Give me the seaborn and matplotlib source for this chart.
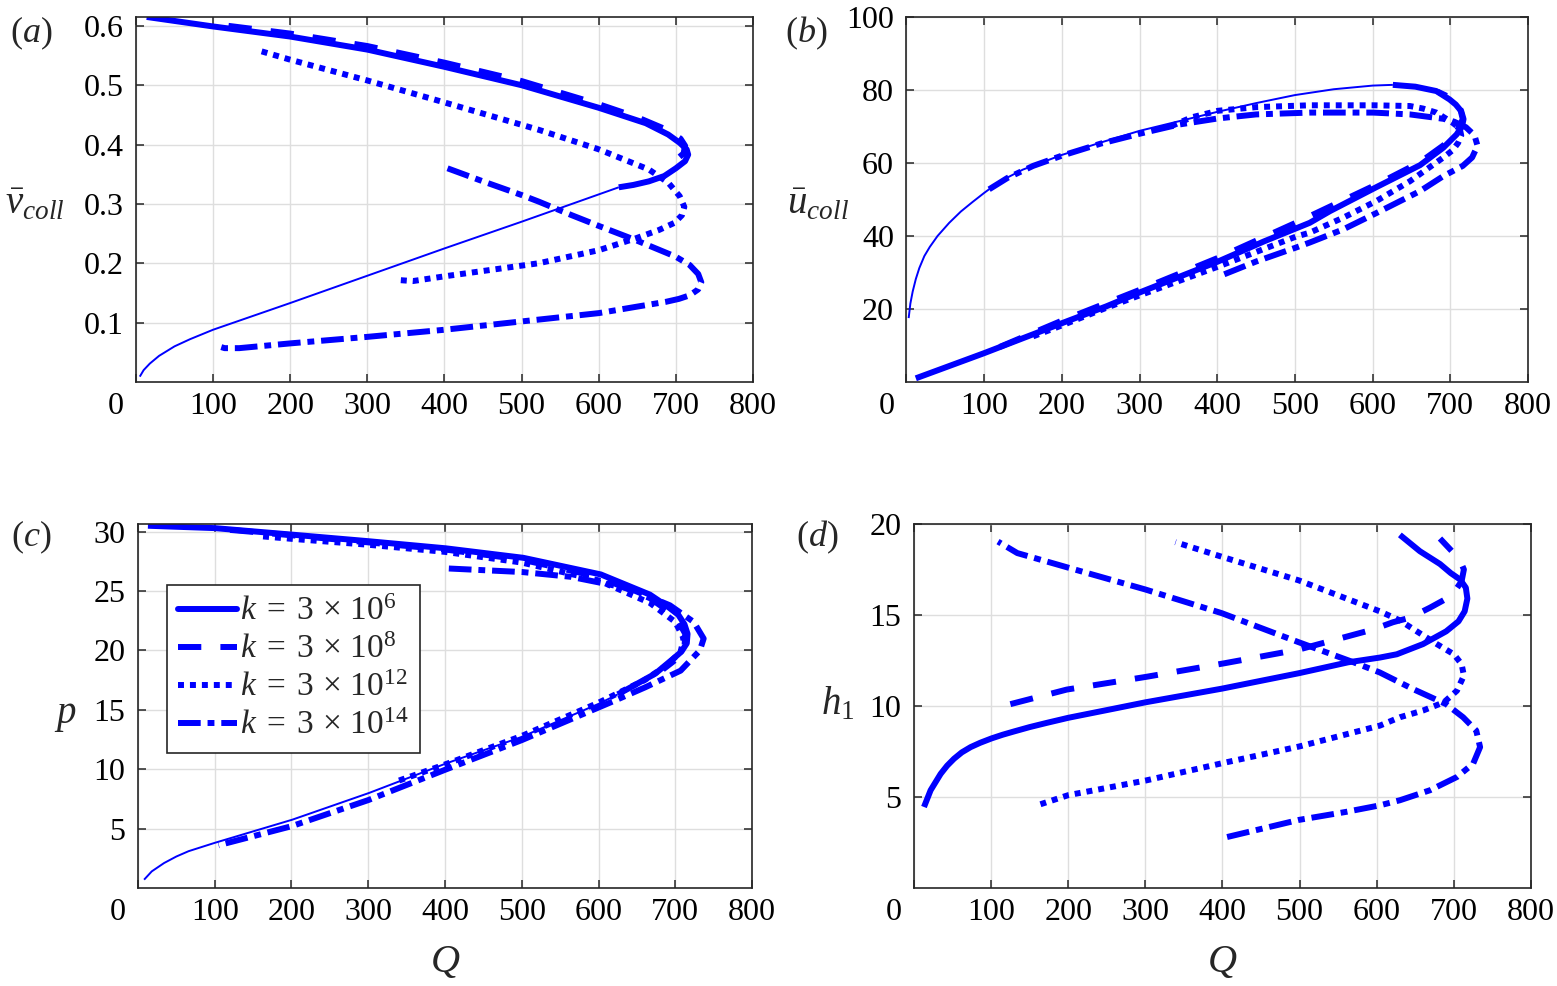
import matplotlib
matplotlib.use("Agg")
import matplotlib.pyplot as plt
import matplotlib.transforms as mtransforms
from matplotlib.lines import Line2D
import seaborn as sns

# ---- data (Q on x) ----
# (a) v_coll
a_k6_thick_Q = [14, 100, 200, 300, 400, 500, 600, 661, 690, 705, 714, 716, 712, 700, 685, 665, 645, 626]
a_k6_thick_v = [0.615, 0.599, 0.582, 0.560, 0.531, 0.500, 0.462, 0.436, 0.417, 0.403, 0.392, 0.383, 0.372, 0.360, 0.347, 0.338, 0.332, 0.328]
a_k6_thin_Q = [626, 550, 500, 400, 300, 200, 100, 70, 50, 30, 18, 10, 5]
a_k6_thin_v = [0.328, 0.293, 0.270, 0.225, 0.179, 0.133, 0.088, 0.072, 0.060, 0.044, 0.031, 0.020, 0.009]
a_k8_Q = [120, 200, 300, 400, 500, 600, 650, 690, 706, 712, 710, 700, 685]
a_k8_v = [0.600, 0.587, 0.566, 0.538, 0.507, 0.468, 0.446, 0.424, 0.410, 0.398, 0.385, 0.374, 0.368]
a_k12_Q = [163, 200, 300, 400, 522, 600, 665, 690, 705, 711, 708, 698, 678, 648, 600, 522, 400, 359, 338]
a_k12_v = [0.557, 0.543, 0.508, 0.471, 0.425, 0.392, 0.358, 0.336, 0.313, 0.295, 0.281, 0.268, 0.256, 0.242, 0.222, 0.200, 0.178, 0.170, 0.172]
a_k14_Q = [404, 450, 500, 522, 565, 600, 648, 700, 718, 729, 733, 729, 718, 704, 687, 650, 600, 500, 400, 300, 200, 134, 115, 105]
a_k14_v = [0.360, 0.338, 0.315, 0.304, 0.281, 0.263, 0.239, 0.211, 0.197, 0.182, 0.168, 0.156, 0.146, 0.140, 0.135, 0.127, 0.116, 0.102, 0.088, 0.076, 0.065, 0.057, 0.057, 0.061]

# (b) u_coll
b_k6_thick_Q = [12, 100, 200, 257, 301, 401, 460, 519, 545, 605, 661, 691, 708, 715, 717, 714, 707, 699, 682, 655, 626]
b_k6_thick_u = [1.0, 7.9, 16.1, 20.7, 24.6, 33.0, 38.5, 43.6, 46.8, 53.4, 59.4, 64.2, 67.8, 70.0, 72.0, 74.2, 76.0, 77.4, 79.7, 80.9, 81.4]
b_k6_thin_Q = [626, 600, 550, 500, 450, 400, 300, 250, 200, 150, 128, 107, 100, 85, 70, 55, 40, 30, 23, 16.5, 12, 8, 5, 2.8]
b_k6_thin_u = [81.4, 81.2, 80.2, 78.6, 76.4, 74.0, 68.8, 65.6, 62.2, 58.2, 55.8, 52.9, 51.8, 49.3, 46.7, 43.6, 40.0, 37.0, 34.5, 31.2, 28.2, 24.8, 21.5, 17.5]
b_k8_Q = [120, 200, 301, 401, 501, 606, 661, 691, 708, 716, 712, 699, 684]
b_k8_u = [9.6, 16.8, 25.3, 34.0, 43.6, 54.2, 60.2, 64.8, 68.5, 72.0, 75.5, 78.0, 79.5]
b_k12_Q = [163, 200, 257, 301, 401, 501, 519, 562, 605, 648, 691, 703, 710, 714, 712, 703, 682, 665, 648, 601, 519, 450, 401, 367, 342]
b_k12_u = [12.5, 15.5, 20.3, 23.8, 31.6, 39.8, 40.9, 45.0, 49.6, 55.0, 61.5, 63.5, 65.5, 67.5, 69.5, 71.0, 73.8, 74.9, 75.6, 75.8, 75.8, 75.3, 74.3, 72.5, 70.2]
b_k14_Q = [409, 450, 501, 519, 562, 605, 661, 691, 716, 728, 735, 731, 720, 705, 691, 648, 601, 519, 450, 401, 350, 300, 250, 200, 163, 130, 105]
b_k14_u = [29.5, 33.0, 36.8, 38.2, 41.8, 46.3, 52.3, 56.4, 59.2, 61.5, 64.7, 67.6, 69.8, 71.3, 72.1, 73.3, 73.8, 73.8, 73.3, 72.2, 70.5, 68.0, 65.3, 62.0, 59.2, 55.9, 52.6]

# (c) p
c_k6_thick_Q = [13, 100, 201, 300, 401, 502, 603, 667, 690, 704, 712, 716, 715, 708, 700, 674, 642, 625]
c_k6_thick_p = [30.5, 30.3, 29.75, 29.2, 28.6, 27.8, 26.4, 24.7, 23.7, 23.0, 22.2, 21.4, 20.6, 19.9, 19.45, 18.05, 16.9, 16.3]
c_k6_thin_Q = [625, 600, 499, 402, 301, 201, 100, 66, 50, 34, 18, 8]
c_k6_thin_p = [16.3, 15.5, 12.7, 10.5, 8.0, 5.75, 3.8, 3.1, 2.65, 2.1, 1.4, 0.7]
c_k8_Q = [120, 200, 300, 400, 500, 600, 667, 700, 713, 712, 700, 684]
c_k8_p = [30.15, 29.7, 29.1, 28.5, 27.65, 26.2, 24.4, 22.9, 21.4, 20.3, 19.2, 18.4]
c_k12_Q = [163, 200, 300, 400, 500, 600, 667, 700, 711, 707, 690, 660, 600, 500, 400, 338]
c_k12_p = [29.6, 29.4, 28.9, 28.3, 27.4, 25.9, 24.0, 22.4, 21.0, 19.9, 18.8, 17.5, 15.6, 12.8, 10.4, 9.0]
c_k14_Q = [405, 501, 564, 641, 693, 724, 737, 732, 707, 661, 622, 500, 400, 300, 200, 105]
c_k14_p = [26.9, 26.6, 26.2, 25.2, 23.8, 22.4, 21.0, 20.0, 18.3, 16.9, 15.8, 12.45, 9.95, 7.4, 5.2, 3.6]

# (d) h1
d_k6_Q = [13, 21.6, 34.6, 43, 51.9, 62, 73.5, 86, 100.7, 115, 129.7, 150, 173, 200, 259, 300, 399, 499, 563, 604, 626, 660, 690, 706, 714, 717.5, 715.5, 708, 696, 682, 656, 630]
d_k6_h = [4.45, 5.37, 6.27, 6.72, 7.1, 7.45, 7.74, 7.98, 8.22, 8.42, 8.6, 8.84, 9.08, 9.35, 9.85, 10.2, 10.95, 11.8, 12.4, 12.66, 12.84, 13.4, 14.1, 14.65, 15.2, 15.9, 16.5, 16.95, 17.3, 17.8, 18.5, 19.4]
d_k8_Q = [125, 198, 301, 403, 499, 595, 621, 643, 669, 697, 710, 713, 708, 702, 682]
d_k8_h = [10.1, 10.9, 11.6, 12.35, 13.1, 14.2, 14.6, 14.85, 15.4, 16.05, 16.85, 17.5, 18.0, 18.3, 19.2]
d_k12_Q = [164, 200, 300, 399, 499, 604, 630, 660, 687, 704, 713, 710, 700, 678, 652, 630, 604, 499, 399, 339]
d_k12_h = [4.6, 5.1, 5.9, 6.85, 7.77, 8.92, 9.38, 9.75, 10.2, 10.84, 11.67, 12.3, 12.84, 13.4, 14.1, 14.7, 15.2, 16.9, 18.2, 19.0]
d_k14_Q = [406, 499, 560, 604, 630, 669, 704, 725, 734, 729, 712, 690, 647, 604, 570, 499, 399, 300, 200, 134, 109]
d_k14_h = [2.8, 3.74, 4.18, 4.54, 4.82, 5.37, 6.1, 6.83, 7.74, 8.65, 9.38, 10.1, 10.93, 11.84, 12.4, 13.5, 15.1, 16.4, 17.6, 18.4, 19.03]

k_labels = [r'$k\;=\;3\,\times\,10^{6}$', r'$k\;=\;3\,\times\,10^{8}$',
            r'$k\;=\;3\,\times\,10^{12}$', r'$k\;=\;3\,\times\,10^{14}$']

BLUE = '#0000ff'
THICK = 4.3
THIN = 1.4
LS = {
    'k6': '-',
    'k8': (0, (3.9, 3.2)),
    'k12': (0, (1, 1)),
    'k14': (0, (3.8, 1.15, 1.15, 1.15)),
}

sns.set_style("ticks")
plt.rcParams['font.family'] = ['Liberation Serif', 'DejaVu Serif']
plt.rcParams['mathtext.fontset'] = 'custom'
plt.rcParams['mathtext.rm'] = 'Liberation Serif'
plt.rcParams['mathtext.it'] = 'Liberation Serif:italic'
plt.rcParams['mathtext.bf'] = 'Liberation Serif:bold'


def curve(ax, Q, y, key, lw=THICK):
    sns.lineplot(x=Q, y=y, sort=False, estimator=None, ax=ax, color=BLUE,
                 lw=lw, linestyle=LS[key], dash_capstyle='butt',
                 solid_capstyle='butt', solid_joinstyle='round')


def setup(ax, ylim, yticks):
    ax.set_xlim(0, 800)
    ax.set_ylim(*ylim)
    ax.set_xticks(range(0, 801, 100))
    ax.set_yticks(yticks)
    ax.set_xlabel('')
    ax.set_ylabel('')
    ax.grid(True, color='#dedede', lw=1.0)
    ax.set_axisbelow(True)
    ax.tick_params(direction='in', length=6, width=1.1, top=True, right=True,
                   labelsize=23, colors='#262626')
    ax.tick_params(axis='x', pad=7, labelcolor='black')
    ax.tick_params(axis='y', pad=9, labelcolor='black')
    for s in ax.spines.values():
        s.set_linewidth(1.2)
        s.set_color('#262626')
    # first x label sits a little to the left of the origin
    lab = ax.get_xticklabels()[0]
    lab.set_transform(lab.get_transform() +
                      mtransforms.ScaledTranslation(-0.2, 0, ax.figure.dpi_scale_trans))


fig = plt.figure(figsize=(15.57, 9.86), dpi=100)
ax_a = fig.add_axes([0.0873, 0.6126, 0.3963, 0.3702])
ax_b = fig.add_axes([0.5822, 0.6126, 0.3992, 0.3702])
ax_c = fig.add_axes([0.0886, 0.0994, 0.3944, 0.3692])
ax_d = fig.add_axes([0.5870, 0.0994, 0.3963, 0.3692])

# (a)
curve(ax_a, a_k6_thin_Q, a_k6_thin_v, 'k6', THIN)
curve(ax_a, a_k6_thick_Q, a_k6_thick_v, 'k6')
curve(ax_a, a_k8_Q, a_k8_v, 'k8')
curve(ax_a, a_k12_Q, a_k12_v, 'k12')
curve(ax_a, a_k14_Q, a_k14_v, 'k14')
setup(ax_a, (0, 0.615), [0.1, 0.2, 0.3, 0.4, 0.5, 0.6])
ax_a.set_ylabel(r'$\bar{v}_{coll}$', fontsize=28, rotation=0, ha='center', va='center')
ax_a.yaxis.set_label_coords(-0.164, 0.485)

# (b)
curve(ax_b, b_k6_thin_Q, b_k6_thin_u, 'k6', THIN)
curve(ax_b, b_k6_thick_Q, b_k6_thick_u, 'k6')
curve(ax_b, b_k8_Q, b_k8_u, 'k8')
curve(ax_b, b_k12_Q, b_k12_u, 'k12')
curve(ax_b, b_k14_Q, b_k14_u, 'k14')
setup(ax_b, (0, 100), [20, 40, 60, 80, 100])
ax_b.set_ylabel(r'$\bar{u}_{coll}$', fontsize=28, rotation=0, ha='center', va='center')
ax_b.yaxis.set_label_coords(-0.142, 0.485)

# (c)
curve(ax_c, c_k6_thin_Q, c_k6_thin_p, 'k6', THIN)
curve(ax_c, c_k6_thick_Q, c_k6_thick_p, 'k6')
curve(ax_c, c_k8_Q, c_k8_p, 'k8')
curve(ax_c, c_k12_Q, c_k12_p, 'k12')
curve(ax_c, c_k14_Q, c_k14_p, 'k14')
setup(ax_c, (0, 30.65), [5, 10, 15, 20, 25, 30])
ax_c.set_ylabel(r'$p$', fontsize=28, rotation=0, ha='center', va='center')
ax_c.yaxis.set_label_coords(-0.119, 0.475)
ax_c.set_xlabel(r'$Q$', fontsize=29)
ax_c.xaxis.set_label_coords(0.5, -0.155)

handles = [Line2D([], [], color=BLUE, lw=THICK, linestyle=LS[k],
                  dash_capstyle='butt') for k in ['k6', 'k8', 'k12', 'k14']]
leg = ax_c.legend(handles, k_labels, loc='upper left', bbox_to_anchor=(0.047, 0.832),
                  frameon=True, fancybox=False, edgecolor='#262626', framealpha=1,
                  fontsize=24, handlelength=1.75, handletextpad=0.1,
                  borderpad=0.35, labelspacing=0.22, borderaxespad=0)
leg.get_frame().set_linewidth(1.2)

# (d)
curve(ax_d, d_k6_Q, d_k6_h, 'k6')
curve(ax_d, d_k8_Q, d_k8_h, 'k8')
curve(ax_d, d_k12_Q, d_k12_h, 'k12')
curve(ax_d, d_k14_Q, d_k14_h, 'k14')
setup(ax_d, (0, 20), [5, 10, 15, 20])
ax_d.set_ylabel(r'$h_1$', fontsize=28, rotation=0, ha='center', va='center')
ax_d.yaxis.set_label_coords(-0.123, 0.503)
ax_d.set_xlabel(r'$Q$', fontsize=29)
ax_d.xaxis.set_label_coords(0.5, -0.155)

# panel letters
fig.text(0.020, 0.9665, r'$(a)$', fontsize=26, ha='center', va='center')
fig.text(0.518, 0.9665, r'$(b)$', fontsize=26, ha='center', va='center')
fig.text(0.020, 0.4550, r'$(c)$', fontsize=26, ha='center', va='center')
fig.text(0.525, 0.4550, r'$(d)$', fontsize=26, ha='center', va='center')

fig.savefig('out.png', dpi=100)
